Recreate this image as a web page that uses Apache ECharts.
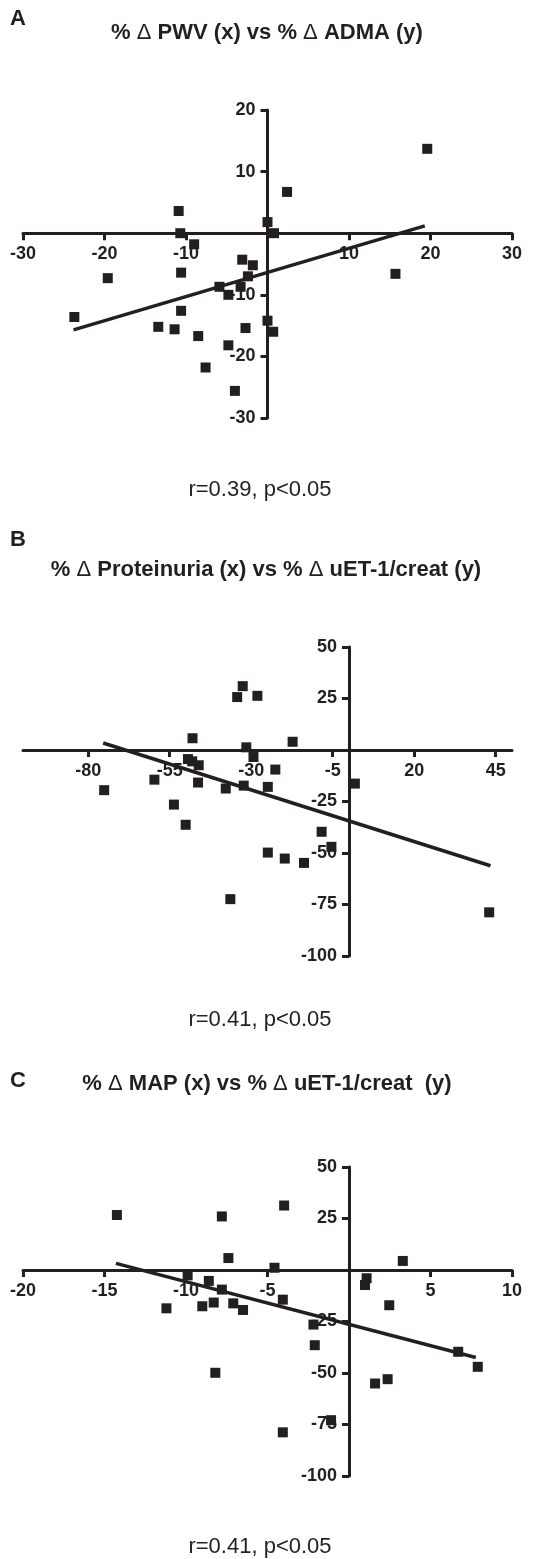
<!DOCTYPE html>
<html>
<head>
<meta charset="utf-8">
<script src="https://cdn.jsdelivr.net/npm/echarts@6/dist/echarts.min.js"></script>
<style>
  html, body { margin: 0; padding: 0; background: #fff; }
  #main { width: 547px; height: 1559px; }
</style>
</head>
<body>
<div id="main"></div>
<script>
// panel A: % change PWV (x) vs % change ADMA (y)
var pwvX = [19.6, 2.4, -10.9, 0, -10.7, 0.8, -9.0, -3.1, -1.8, -10.6, -19.6, 15.7, -2.4, -5.9,
            -3.3, -4.8, -10.6, -23.7, -13.4, -11.4, -2.7, 0, 0.7, -8.5, -4.8, -7.6, -4.0];
var admaY = [13.7, 6.7, 3.6, 1.8, 0, 0, -1.8, -4.3, -5.2, -6.4, -7.3, -6.6, -7.0, -8.7,
             -8.7, -10.0, -12.6, -13.6, -15.2, -15.6, -15.4, -14.2, -16.0, -16.7, -18.2, -21.8, -25.6];
var fitA = [[-23.8, -15.7], [19.3, 1.2]];

// panel B: % change proteinuria (x) vs % change uET-1/creat (y)
var protX = [-32.6, -34.3, -28.1, -48.0, -17.3, -31.5, -29.3, -49.4, -48.1, -46.1, -22.6, -59.7, -46.3, -75.1,
             -37.8, -32.3, -24.9, 1.8, -53.7, -50.1, -8.4, -5.4, -24.9, -19.7, -13.8, -36.4, 43.0];
var uetBY = [31.0, 25.7, 26.3, 5.7, 4.0, 1.3, -3.4, -4.4, -5.5, -7.4, -9.5, -14.4, -15.8, -19.5,
             -18.7, -17.3, -17.9, -16.3, -26.5, -36.3, -39.7, -47.0, -49.8, -52.7, -54.8, -72.4, -78.8];
var fitB = [[-75.4, 3.4], [43.4, -56.2]];

// panel C: % change MAP (x) vs % change uET-1/creat (y)
var mapX = [-14.24, -7.8, -3.98, -7.4, 3.3, -4.57, -9.9, -8.6, 1.08, 0.98, -7.8, -4.06, -8.3, -7.1,
            -9.0, -11.2, -6.5, 2.47, -2.18, -2.1, 6.7, 7.9, -8.2, 2.37, 1.6, -1.1, -4.06];
var uetCY = [26.7, 26.0, 31.3, 5.8, 4.4, 1.1, -2.6, -5.3, -4.0, -7.3, -9.5, -14.4, -15.8, -16.2,
             -17.6, -18.6, -19.4, -17.1, -26.5, -36.5, -39.7, -47.0, -49.9, -53.0, -55.1, -72.9, -78.8];
var fitC = [[-14.3, 3.2], [7.78, -42.5]];

// tick labels
var ticksAX = [-30, -20, -10, 10, 20, 30];
var ticksAY = [20, 10, -10, -20, -30];
var ticksBX = [-80, -55, -30, -5, 20, 45];
var ticksBY = [50, 25, -25, -50, -75, -100];
var ticksCX = [-20, -15, -10, -5, 5, 10];
var ticksCY = [50, 25, -25, -50, -75, -100];

var ink = '#231f20';
var font = 'Liberation Sans, Arial, Helvetica, sans-serif';
var gridW = 489;
var grids = [
    { left: 23, top: 110, width: gridW, height: 308 },
    { left: 23, top: 647, width: gridW, height: 309 },
    { left: 23, top: 1167, width: gridW, height: 309 }
];

function pairs(xs, ys) {
    return xs.map(function (x, i) { return [x, ys[i]]; });
}

// axis drawn through the zero of the other axis: shift it into the grid
function axis(idx, min, max, ticks, otherMin, otherMax, span) {
    var shift = (0 - otherMin) / (otherMax - otherMin) * span;
    return {
        type: 'value',
        gridIndex: idx,
        min: min,
        max: max,
        offset: -shift,
        splitLine: { show: false },
        axisLine: { onZero: false, lineStyle: { color: ink, width: 3 } },
        axisTick: { length: 7, customValues: ticks, lineStyle: { color: ink, width: 3 } },
        axisLabel: {
            customValues: ticks,
            margin: 12,
            color: ink,
            fontSize: 18,
            fontWeight: 'bold',
            fontFamily: font
        }
    };
}

function dots(idx, xs, ys) {
    return {
        type: 'scatter',
        xAxisIndex: idx,
        yAxisIndex: idx,
        symbol: 'rect',
        symbolSize: 10,
        itemStyle: { color: ink, opacity: 1 },
        data: pairs(xs, ys),
        z: 3
    };
}

function fit(idx, pts) {
    return {
        type: 'line',
        xAxisIndex: idx,
        yAxisIndex: idx,
        symbol: 'none',
        lineStyle: { color: ink, width: 3.5 },
        data: pts,
        z: 4
    };
}

function txt(x, y, s, bold) {
    return {
        type: 'text',
        x: x,
        y: y,
        style: {
            text: s,
            fill: ink,
            font: (bold ? 'bold ' : '') + '22px ' + font,
            textAlign: x < 40 ? 'left' : 'center',
            textVerticalAlign: 'middle',
            rich: {
                d: { fontWeight: 'normal', fontSize: 22, fontFamily: font, fill: ink }
            }
        }
    };
}

var chart = echarts.init(document.getElementById('main'));

var option = {
    animation: false,
    grid: grids.map(function (g) {
        return { left: g.left, top: g.top, width: g.width, height: g.height,
                 containLabel: false, outerBoundsMode: 'none' };
    }),
    xAxis: [
        axis(0, -30, 30, ticksAX, -30, 20, grids[0].height),
        axis(1, -100, 50, ticksBX, -100, 50, grids[1].height),
        axis(2, -20, 10, ticksCX, -100, 50, grids[2].height)
    ],
    yAxis: [
        axis(0, -30, 20, ticksAY, -30, 30, gridW),
        axis(1, -100, 50, ticksBY, -100, 50, gridW),
        axis(2, -100, 50, ticksCY, -20, 10, gridW)
    ],
    series: [
        dots(0, pwvX, admaY), fit(0, fitA),
        dots(1, protX, uetBY), fit(1, fitB),
        dots(2, mapX, uetCY), fit(2, fitC)
    ],
    graphic: [
        txt(10, 19, 'A', true),
        txt(267, 33, '% {d|\u0394} PWV (x) vs % {d|\u0394} ADMA (y)', true),
        txt(260, 490, 'r=0.39, p<0.05', false),
        txt(10, 540, 'B', true),
        txt(266, 570, '% {d|\u0394} Proteinuria (x) vs % {d|\u0394} uET-1/creat (y)', true),
        txt(260, 1020, 'r=0.41, p<0.05', false),
        txt(10, 1081, 'C', true),
        txt(267, 1084, '% {d|\u0394} MAP (x) vs % {d|\u0394} uET-1/creat  (y)', true),
        txt(260, 1547, 'r=0.41, p<0.05', false)
    ]
};

chart.setOption(option);
</script>
</body>
</html>
